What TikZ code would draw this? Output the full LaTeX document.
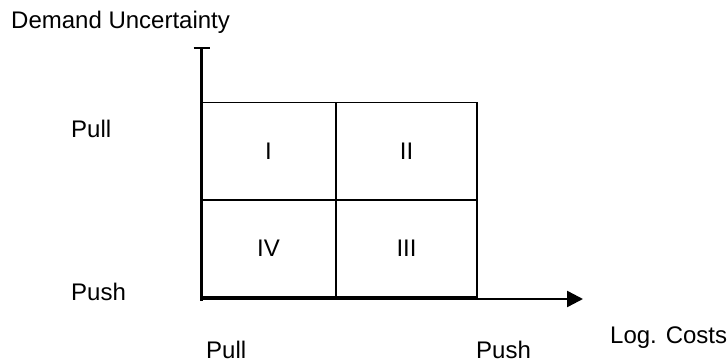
\documentclass[tikz,border=0pt]{standalone}
\usepackage{fontspec}
\setmainfont{Liberation Sans}
\usetikzlibrary{arrows.meta}
\begin{document}
\begin{tikzpicture}[x=1pt,y=1pt,
  lbl/.style={anchor=base west,inner sep=0pt,font=\fontsize{24}{28}\selectfont},
  cell/.style={draw,line width=1.2pt,minimum width=#1,minimum height=97pt,inner sep=0pt,font=\fontsize{24}{28}\selectfont},
  axis/.style={line width=2.4pt}]
\useasboundingbox (0,0) rectangle (728,-363);
% cells
\node[cell=135pt] (c1) at (268.5,-151) {I};
\node[cell=141pt] (c2) at (406.5,-151) {II};
\node[cell=135pt] (c4) at (268.5,-248.5) {IV};
\node[cell=141pt] (c3) at (406.5,-248.5) {III};
% axes
\coordinate (ytop) at (201.5,-48);
\coordinate (ybot) at (201.5,-301);
\coordinate (xl) at (200,-299);
\coordinate (xr) at (583,-299);
\draw[axis] (ybot) -- (ytop);
\draw[axis] ([xshift=-8pt]ytop) -- ([xshift=8pt]ytop);
\draw[axis,-{Triangle[length=16pt,width=16pt]}] (xl) -- (xr);
% labels
\node[lbl] (du) at (11,-29) {Demand Uncertainty};
\node[lbl] (ypull) at (71,-138) {Pull};
\node[lbl] (ypush) at (71,-301) {Push};
\node[lbl] (xpull) at (206,-358) {Pull};
\node[lbl] (xpush) at (476,-358) {Push};
\node[lbl] (lc) at (610,-343) {Log. Costs};
\end{tikzpicture}
\end{document}
